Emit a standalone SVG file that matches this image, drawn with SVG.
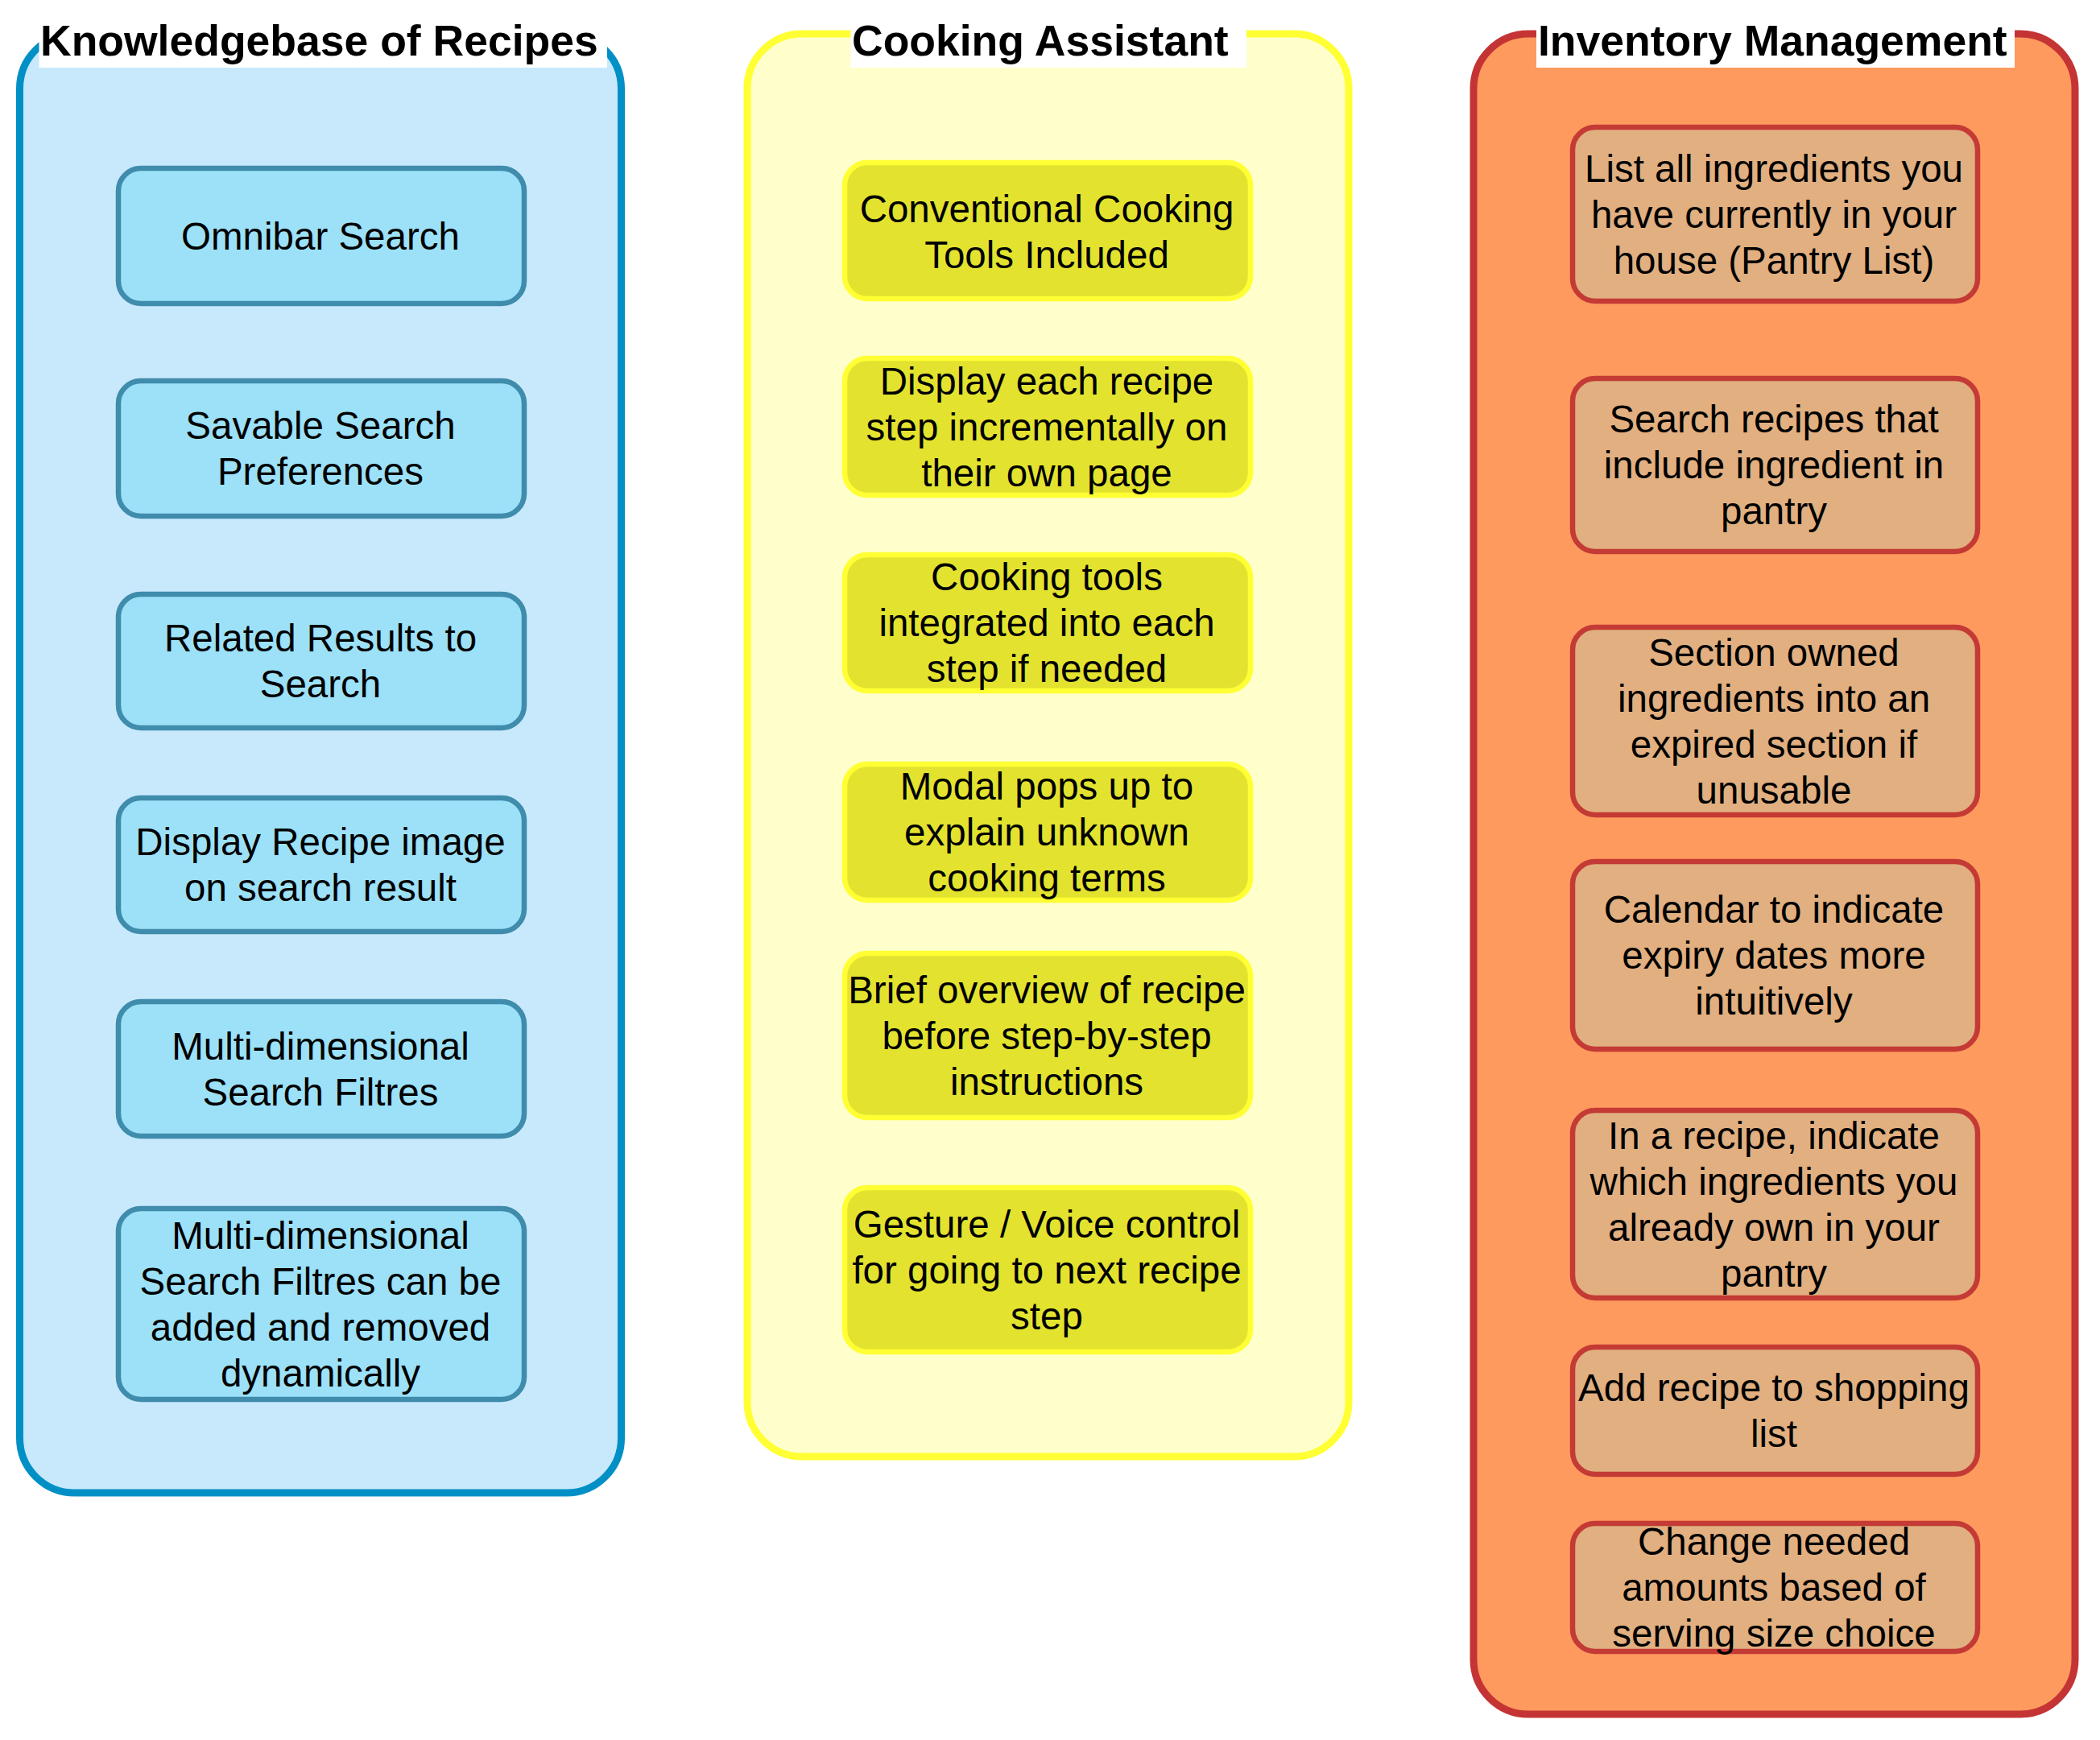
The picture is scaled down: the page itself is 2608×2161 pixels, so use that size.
<svg xmlns="http://www.w3.org/2000/svg" width="2608" height="2161" viewBox="0 0 2608 2161">
<style>
.lane{stroke-width:9}
.l1{fill:#C8E9FC;stroke:#0090C6}
.l2{fill:#FFFFCC;stroke:#FFFF33}
.l3{fill:#FF9A5E;stroke:#C43434}
.n{stroke-width:6.5}
.n1{fill:#9CE1F8;stroke:#3F8CAC}
.n2{fill:#E3E32F;stroke:#FFFF33}
.n3{fill:#E1AF80;stroke:#C43A35}
.tbg{fill:#FFFFFF}
.title{font-family:"Liberation Sans",Arial,sans-serif;font-weight:bold;font-size:53.5px;fill:#000}
.t{font-family:"Liberation Sans",Arial,sans-serif;font-size:47.5px;fill:#000;text-anchor:middle}
</style>
<rect x="0" y="0" width="2608" height="2161" fill="#FFFFFF"/>

<g id="lane-knowledgebase">
<rect class="lane l1" x="24.5" y="42" width="747" height="1812" rx="68" ry="68"/>
<rect class="tbg" x="48.5" y="31" width="705.5" height="53"/>
<text class="title" x="50" y="69">Knowledgebase of Recipes</text>
</g>
<g id="lane-cooking">
<rect class="lane l2" x="928" y="42" width="747" height="1767" rx="68" ry="68"/>
<rect class="tbg" x="1056.5" y="31" width="491.5" height="53"/>
<text class="title" x="1058" y="69">Cooking Assistant</text>
</g>
<g id="lane-inventory">
<rect class="lane l3" x="1830" y="42" width="747" height="2087" rx="68" ry="68"/>
<rect class="tbg" x="1908" y="31" width="594" height="53"/>
<text class="title" x="1910" y="69">Inventory Management</text>
</g>

<g id="kb1"><rect class="n n1" x="147" y="209" width="504" height="168" rx="28"/>
<text class="t" x="398" y="309.5">Omnibar Search</text></g>
<g id="kb2"><rect class="n n1" x="147" y="473" width="504" height="168" rx="28"/>
<text class="t" x="398" y="545">Savable Search</text><text class="t" x="398" y="602">Preferences</text></g>
<g id="kb3"><rect class="n n1" x="147" y="738" width="504" height="166" rx="28"/>
<text class="t" x="398" y="809">Related Results to</text><text class="t" x="398" y="866">Search</text></g>
<g id="kb4"><rect class="n n1" x="147" y="991" width="504" height="166" rx="28"/>
<text class="t" x="398" y="1062">Display Recipe image</text><text class="t" x="398" y="1119">on search result</text></g>
<g id="kb5"><rect class="n n1" x="147" y="1244" width="504" height="167" rx="28"/>
<text class="t" x="398" y="1315.5">Multi-dimensional</text><text class="t" x="398" y="1372.5">Search Filtres</text></g>
<g id="kb6"><rect class="n n1" x="147" y="1501" width="504" height="237" rx="28"/>
<text class="t" x="398" y="1550.5">Multi-dimensional</text><text class="t" x="398" y="1607.5">Search Filtres can be</text><text class="t" x="398" y="1664.5">added and removed</text><text class="t" x="398" y="1721.5">dynamically</text></g>

<g id="ca1"><rect class="n n2" x="1049" y="202" width="504" height="169" rx="28"/>
<text class="t" x="1300" y="276">Conventional Cooking</text><text class="t" x="1300" y="333">Tools Included</text></g>
<g id="ca2"><rect class="n n2" x="1049" y="445" width="504" height="170" rx="28"/>
<text class="t" x="1300" y="489.5">Display each recipe</text><text class="t" x="1300" y="546.5">step incrementally on</text><text class="t" x="1300" y="603.5">their own page</text></g>
<g id="ca3"><rect class="n n2" x="1049" y="689" width="504" height="169" rx="28"/>
<text class="t" x="1300" y="733">Cooking tools</text><text class="t" x="1300" y="790">integrated into each</text><text class="t" x="1300" y="847">step if needed</text></g>
<g id="ca4"><rect class="n n2" x="1049" y="949" width="504" height="169" rx="28"/>
<text class="t" x="1300" y="993">Modal pops up to</text><text class="t" x="1300" y="1050">explain unknown</text><text class="t" x="1300" y="1107">cooking terms</text></g>
<g id="ca5"><rect class="n n2" x="1049" y="1184" width="504" height="204" rx="28"/>
<text class="t" x="1300" y="1245.5">Brief overview of recipe</text><text class="t" x="1300" y="1302.5">before step-by-step</text><text class="t" x="1300" y="1359.5">instructions</text></g>
<g id="ca6"><rect class="n n2" x="1049" y="1475" width="504" height="204" rx="28"/>
<text class="t" x="1300" y="1536.5">Gesture / Voice control</text><text class="t" x="1300" y="1593.5">for going to next recipe</text><text class="t" x="1300" y="1650.5">step</text></g>

<g id="im1"><rect class="n n3" x="1953" y="158" width="503" height="216" rx="28"/>
<text class="t" x="2203" y="225.5">List all ingredients you</text><text class="t" x="2203" y="282.5">have currently in your</text><text class="t" x="2203" y="339.5">house (Pantry List)</text></g>
<g id="im2"><rect class="n n3" x="1953" y="470" width="503" height="215" rx="28"/>
<text class="t" x="2203" y="537">Search recipes that</text><text class="t" x="2203" y="594">include ingredient in</text><text class="t" x="2203" y="651">pantry</text></g>
<g id="im3"><rect class="n n3" x="1953" y="779" width="503" height="233" rx="28"/>
<text class="t" x="2203" y="826.5">Section owned</text><text class="t" x="2203" y="883.5">ingredients into an</text><text class="t" x="2203" y="940.5">expired section if</text><text class="t" x="2203" y="997.5">unusable</text></g>
<g id="im4"><rect class="n n3" x="1953" y="1070" width="503" height="233" rx="28"/>
<text class="t" x="2203" y="1146">Calendar to indicate</text><text class="t" x="2203" y="1203">expiry dates more</text><text class="t" x="2203" y="1260">intuitively</text></g>
<g id="im5"><rect class="n n3" x="1953" y="1379" width="503" height="233" rx="28"/>
<text class="t" x="2203" y="1426.5">In a recipe, indicate</text><text class="t" x="2203" y="1483.5">which ingredients you</text><text class="t" x="2203" y="1540.5">already own in your</text><text class="t" x="2203" y="1597.5">pantry</text></g>
<g id="im6"><rect class="n n3" x="1953" y="1673" width="503" height="158" rx="28"/>
<text class="t" x="2203" y="1740">Add recipe to shopping</text><text class="t" x="2203" y="1797">list</text></g>
<g id="im7"><rect class="n n3" x="1953" y="1892" width="503" height="159" rx="28"/>
<text class="t" x="2203" y="1931">Change needed</text><text class="t" x="2203" y="1988">amounts based of</text><text class="t" x="2203" y="2045">serving size choice</text></g>

<g id="connectors"></g>
</svg>
